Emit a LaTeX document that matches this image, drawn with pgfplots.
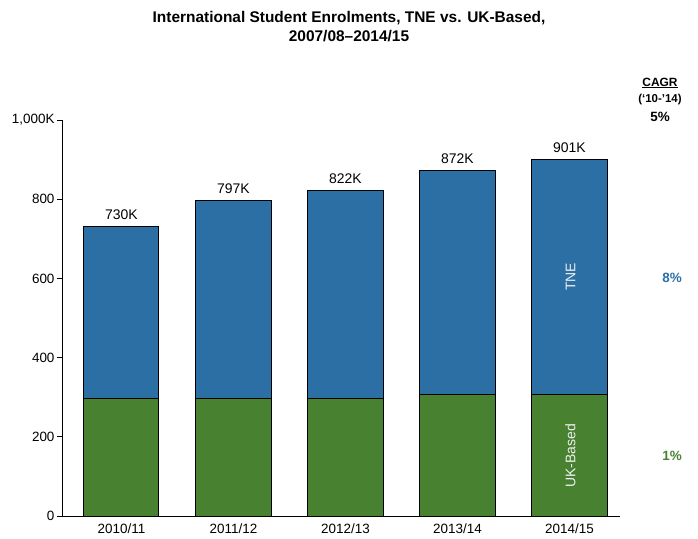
\documentclass[border=0pt]{standalone}
\usepackage{fontspec}
\setmainfont{Liberation Sans}
\usepackage{pgfplots}
\pgfplotsset{compat=1.18}
\usepackage{pgfplotstable}

\definecolor{tneblue}{RGB}{44,111,164}
\definecolor{ukgreen}{RGB}{72,130,48}

% year index, UK-based, TNE, total (thousands)
\pgfplotstableread{
x uk tne total
0 297 433 730
1 297 500 797
2 297 525 822
3 307 565 872
4 307 594 901
}\enrol

\pgfplotsset{frame/.style={
  scale only axis,
  width=558bp, height=396bp,
  xmin=-0.531, xmax=4.451,
  ymin=0, ymax=1000,
  clip=false,
}}

\begin{document}
\begin{tikzpicture}
\useasboundingbox (-62bp,-23bp) rectangle (636bp,516bp);
\begin{axis}[
  frame,
  ybar stacked,
  bar width=0.67,
  axis x line*=bottom,
  axis y line*=left,
  xtick=data,
  xticklabels={2010/11,2011/12,2012/13,2013/14,2014/15},
  major x tick style={draw=none},
  ytick={0,200,400,600,800,1000},
  yticklabels={0,200,400,600,800,{1,000K}},
  tick align=outside,
  major tick length=5bp,
  tick style={black, line width=0.8pt},
  axis line style={black, line width=1pt},
  tick label style={font=\fontsize{13.5}{15}\selectfont},
  yticklabel style={xshift=1bp},
  xticklabel style={yshift=1bp},
  every axis plot/.append style={draw=black, line width=1pt},
]
\addplot[fill=ukgreen] table[x=x, y=uk] {\enrol};
\addplot[fill=tneblue] table[x=x, y=tne] {\enrol};
\end{axis}

% totals above the bars
\begin{axis}[frame, hide axis]
\addplot[only marks, mark=none,
  point meta=y,
  nodes near coords={\pgfmathprintnumber[assume math mode=true]{\pgfplotspointmeta}K},
  every node near coord/.append style={font=\fontsize{14}{16}\selectfont, black, anchor=south, yshift=3.5bp},
] table[x=x, y=total] {\enrol};
\end{axis}

% title
\node[align=center, font=\bfseries\fontsize{15.5}{19}\selectfont] at (287bp,489bp)
  {International Student Enrolments, TNE vs. UK-Based,\\2007/08--2014/15};

% segment labels in last bar
\node[rotate=90, text=white!88!gray, font=\fontsize{14}{16}\selectfont] at (508.5bp,239bp) {TNE};
\node[rotate=90, text=white!88!gray, font=\fontsize{14}{16}\selectfont] at (508.5bp,60bp) {UK-Based};

% CAGR column
\node[font=\bfseries\fontsize{12}{14}\selectfont, inner sep=0pt] at (598bp,433bp) {\underline{CAGR}};
\node[font=\bfseries\fontsize{11.5}{13}\selectfont, inner sep=0pt] at (598bp,416bp) {(`10-'14)};
\node[font=\bfseries\fontsize{13.5}{15}\selectfont, inner sep=0pt] at (598bp,399bp) {5\%};
\node[font=\bfseries\fontsize{13.5}{15}\selectfont, inner sep=0pt, text=tneblue] at (610bp,238bp) {8\%};
\node[font=\bfseries\fontsize{13.5}{15}\selectfont, inner sep=0pt, text=ukgreen] at (610bp,60bp) {1\%};
\end{tikzpicture}
\end{document}
